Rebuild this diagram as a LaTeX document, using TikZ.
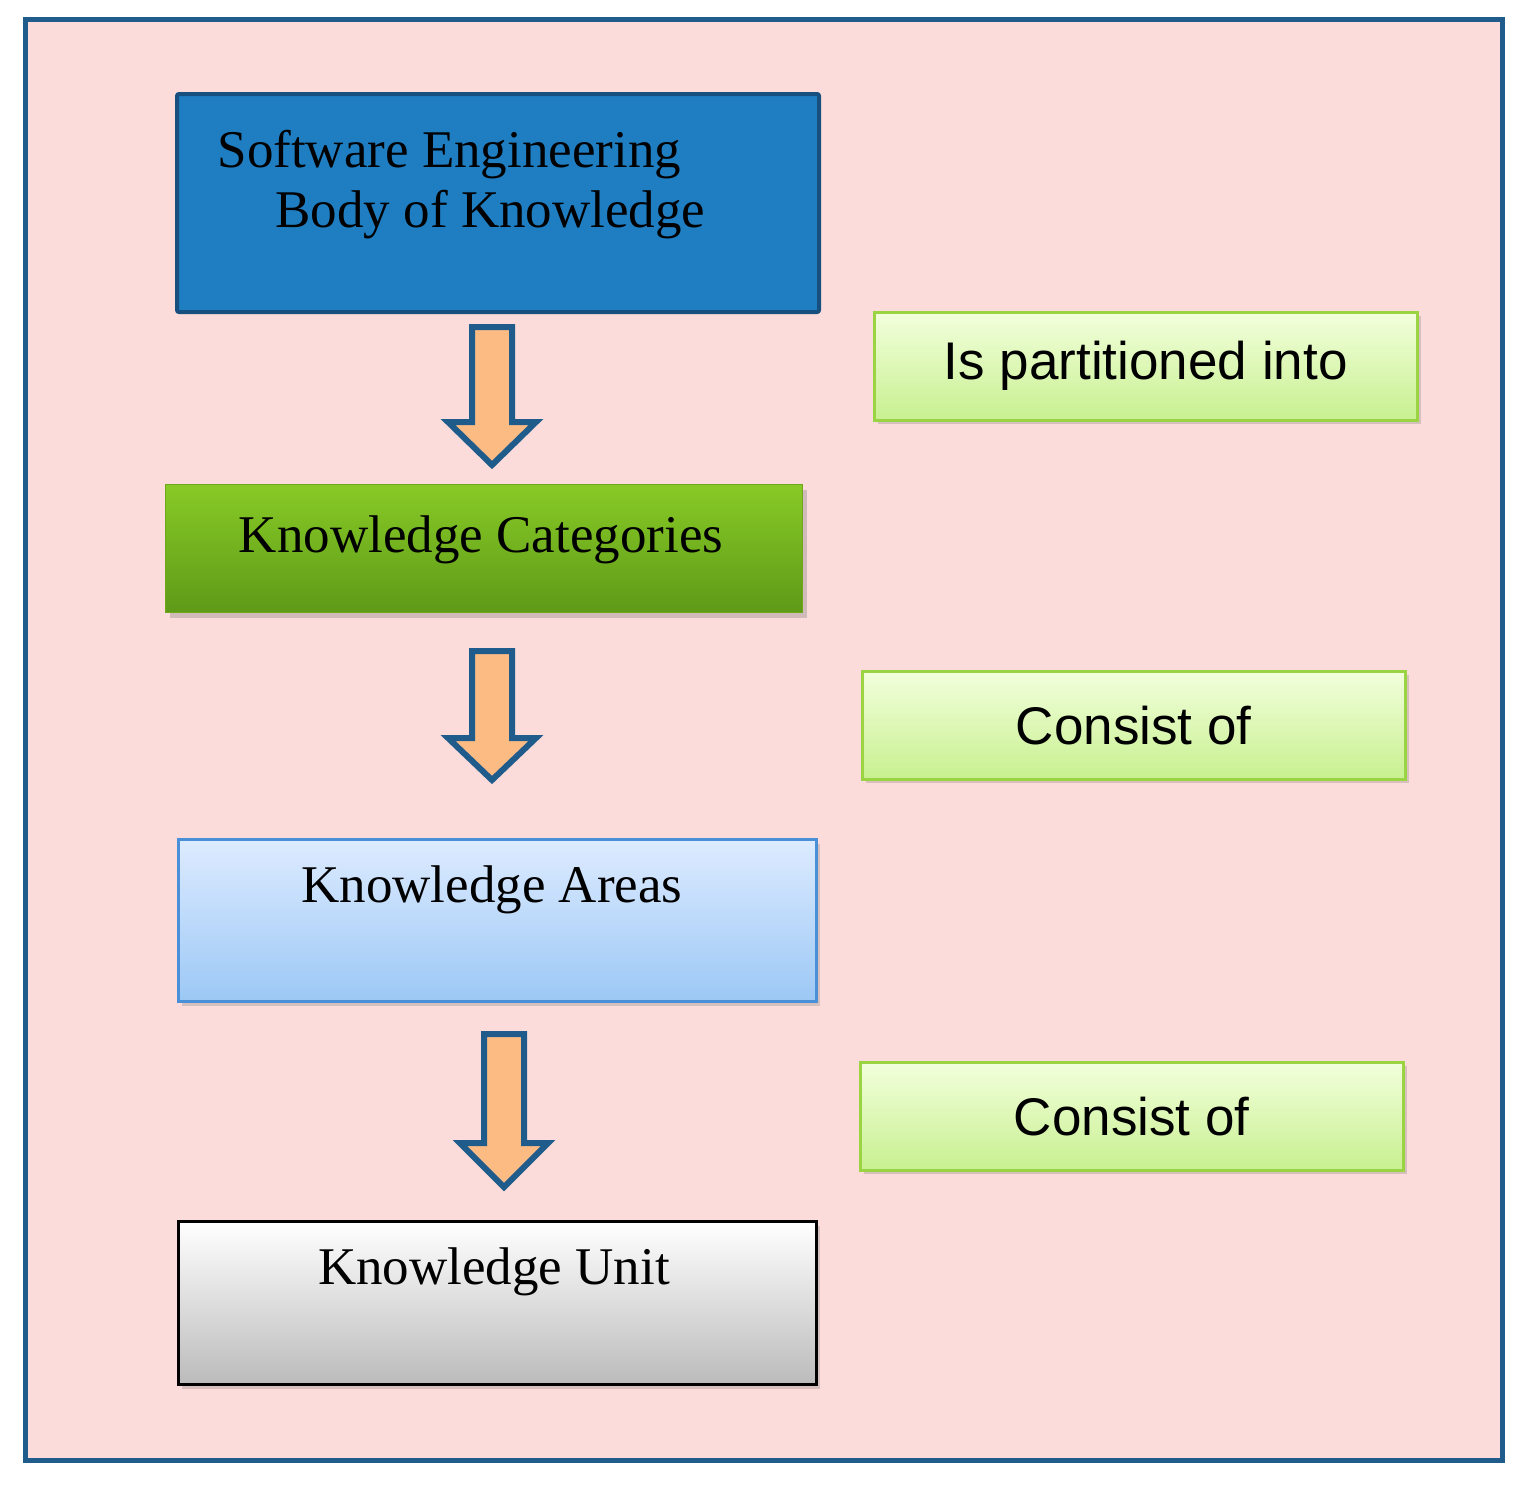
\documentclass[tikz,border=0pt]{standalone}
\usepackage{fontspec}
\setmainfont{Liberation Serif}
\newfontfamily\sansf{Liberation Sans}
\usetikzlibrary{shadows}
\definecolor{pinkbg}{HTML}{FCDCDA}
\definecolor{dblue}{HTML}{1F5C8B}
\definecolor{arrowfill}{HTML}{FDBB84}
\definecolor{bAfill}{HTML}{1F7EC2}
\definecolor{bAdraw}{HTML}{17507F}
\definecolor{gdraw}{HTML}{6FA81E}
\definecolor{gtop}{HTML}{88CA26}
\definecolor{gbot}{HTML}{5E9A18}
\definecolor{bldraw}{HTML}{4A90D9}
\definecolor{bltop}{HTML}{DDEBFF}
\definecolor{blbot}{HTML}{9CC8F5}
\definecolor{grbot}{HTML}{BBBBBB}
\definecolor{ldraw}{HTML}{9AD442}
\definecolor{ltop}{HTML}{F2FFDC}
\definecolor{lbot}{HTML}{C8F090}
\begin{document}
\begin{tikzpicture}[x=1pt,y=-1pt,
  lbl/.style={draw=ldraw,line width=2.5pt,top color=ltop,bottom color=lbot,drop shadow={opacity=0.3,shadow xshift=4pt,shadow yshift=-4pt}},
  down/.style={draw=dblue,line width=6pt,fill=arrowfill,line join=miter},
  stxt/.style={font=\fontsize{53}{60}\selectfont},
  ltxt/.style={font=\sansf\fontsize{53}{60}\selectfont}]
\useasboundingbox (0,0) rectangle (1528,1488);
\draw[fill=pinkbg,draw=dblue,line width=5pt] (25,20) rectangle (1502,1460);
% box1
\node[fill=bAfill,draw=bAdraw,line width=4pt,rounded corners=2pt,minimum width=642pt,minimum height=218pt,anchor=north west,inner sep=0pt] (b1) at (175,92) {};
\node[stxt,anchor=west,xscale=1.0] (t1a) at (214,155) {Software Engineering};
\node[stxt,anchor=west] (t1b) at (272,215) {Body of Knowledge};
% box2
\node[draw=gdraw,line width=1pt,top color=gtop,bottom color=gbot,minimum width=637pt,minimum height=128pt,drop shadow={opacity=0.35,shadow xshift=4pt,shadow yshift=-5pt},anchor=north west,inner sep=0pt] (b2) at (165,484) {};
\node[stxt] (t2) at (481,540) {Knowledge Categories};
% box3
\node[draw=bldraw,line width=2.5pt,top color=bltop,bottom color=blbot,minimum width=638pt,minimum height=162pt,drop shadow={opacity=0.3,shadow xshift=4pt,shadow yshift=-5pt},anchor=north west,inner sep=0pt] (b3) at (177,838) {};
\node[stxt] (t3) at (492,890) {Knowledge Areas};
% box4
\node[draw=black,line width=2.5pt,top color=white,bottom color=grbot,minimum width=638pt,minimum height=163pt,drop shadow={opacity=0.3,shadow xshift=4pt,shadow yshift=-5pt},anchor=north west,inner sep=0pt] (b4) at (177,1220) {};
\node[stxt] (t4) at (494,1272) {Knowledge Unit};
% arrows
\draw[down] (472,327) -- (512,327) -- (512,422) -- (536,422) -- (492,465) -- (448,422) -- (472,422) -- cycle;
\draw[down] (472,651) -- (512,651) -- (512,738) -- (536,738) -- (492,780) -- (448,738) -- (472,738) -- cycle;
\draw[down] (484,1034) -- (524,1034) -- (524,1143) -- (548,1143) -- (504,1187) -- (460,1143) -- (484,1143) -- cycle;
% labels
\node[lbl,minimum width=543pt,minimum height=108pt,anchor=north west,inner sep=0pt] (l1) at (873,311) {};
\node[ltxt] at (l1.center) {Is partitioned into};
\node[lbl,minimum width=543pt,minimum height=108pt,anchor=north west,inner sep=0pt] (l2) at (861,670) {};
\node[ltxt] at (l2.center) {Consist of};
\node[lbl,minimum width=543pt,minimum height=108pt,anchor=north west,inner sep=0pt] (l3) at (859,1061) {};
\node[ltxt] at (l3.center) {Consist of};
\end{tikzpicture}
\end{document}
